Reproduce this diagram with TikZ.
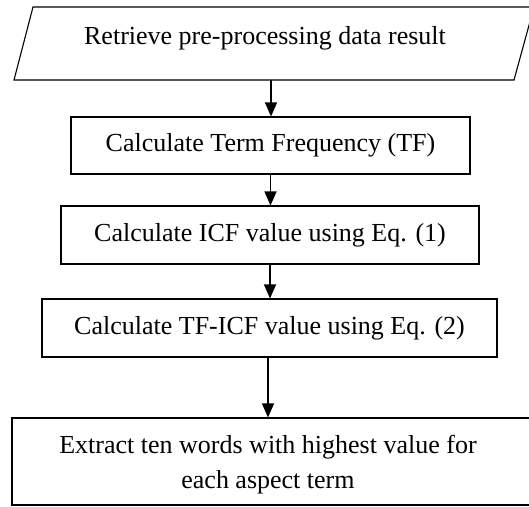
\documentclass[tikz,border=0pt]{standalone}
\usepackage{fontspec}
\setmainfont{Liberation Serif}
\usetikzlibrary{arrows.meta}
\begin{document}
\begin{tikzpicture}[x=1pt,y=-1pt,
  every node/.style={font=\fontsize{26}{35}\selectfont, inner sep=0pt},
  procbox/.style={draw, line width=1.1pt, rectangle},
  arr/.style={line width=1.3pt, -{Triangle[length=14pt,width=12pt]}},
  outline/.style={draw, line width=1.1pt}]
\useasboundingbox (0,0) rectangle (529,506);
\clip (0,0) rectangle (529,506);
% parallelogram
\draw[outline] (33,7) -- (534,7) -- (514,80) -- (14,80) -- cycle;
\node (n1) at (265,38) {Retrieve pre-processing data result};
\coordinate (n1b) at (271,80);
\node[procbox, minimum width=399pt, minimum height=57pt] (n2) at (270.5,145.5) {Calculate Term Frequency (TF)};
\node[procbox, minimum width=418pt, minimum height=58pt] (n3) at (270,235) {Calculate ICF value using Eq. (1)};
\node[procbox, minimum width=455pt, minimum height=58pt] (n4) at (269.5,328) {Calculate TF-ICF value using Eq. (2)};
\node[procbox, minimum width=524pt, minimum height=87pt] (n5) at (274,461.5) {};
\node[align=center] (n5t) at (268,465) {Extract ten words with highest value for\\each aspect term};
\coordinate (c2) at (270.5,0);
\coordinate (c3) at (270,0);
\coordinate (c4) at (268,0);
\draw[arr] (n1b) -- (n2.north -| n1b);
\draw[arr] (n2.south -| c2) -- (n3.north -| c2);
\draw[arr] (n3.south -| c3) -- (n4.north -| c3);
\draw[arr] (n4.south -| c4) -- (n5.north -| c4);
\end{tikzpicture}
\end{document}
